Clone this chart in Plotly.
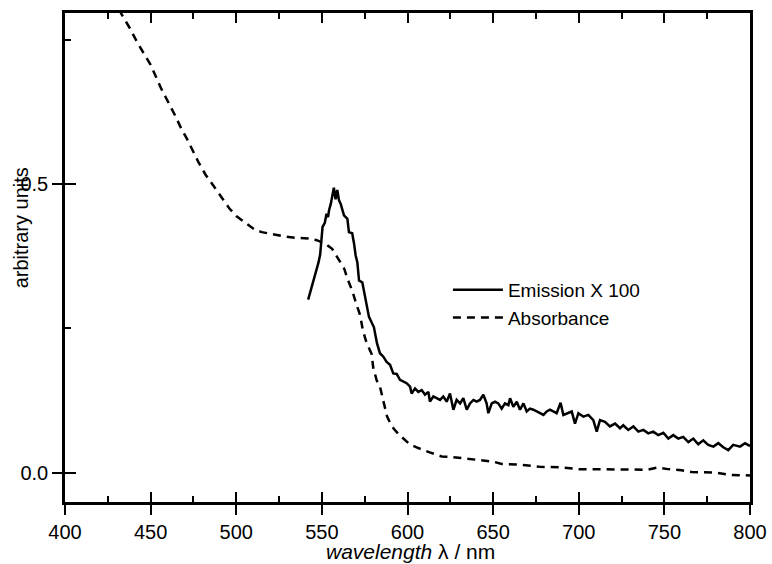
import plotly.graph_objects as go

# ---------------- data ----------------
abs_wl = [428, 433, 438, 442, 446, 450, 456, 460, 464, 468, 471, 475, 478, 482,
          487, 492, 496, 500, 505, 511, 515, 520, 527, 535, 542, 547, 552, 556,
          559, 561, 563, 565, 568, 570, 572, 573, 574, 576, 579, 580, 582, 584,
          586, 588, 590, 592, 595, 598, 601, 605, 609, 613, 617, 620, 626, 634,
          642, 650, 655, 665, 677, 690, 700, 720, 740, 746, 752, 760, 766, 780,
          788, 800]
abs_val = [0.825, 0.795, 0.770, 0.747, 0.727, 0.707, 0.667, 0.645, 0.621, 0.596,
           0.580, 0.556, 0.538, 0.517, 0.495, 0.475, 0.458, 0.445, 0.434, 0.421,
           0.417, 0.414, 0.410, 0.407, 0.406, 0.403, 0.397, 0.388, 0.374, 0.365,
           0.354, 0.336, 0.313, 0.293, 0.276, 0.262, 0.246, 0.226, 0.206, 0.182,
           0.160, 0.148, 0.122, 0.098, 0.085, 0.076, 0.066, 0.058, 0.050, 0.044,
           0.039, 0.035, 0.031, 0.028, 0.027, 0.024, 0.021, 0.019, 0.015, 0.014,
           0.010, 0.009, 0.006, 0.005, 0.005, 0.009, 0.006, 0.004, 0.001, 0.000,
           -0.004, -0.005]

em_wl = [542.0, 543.0, 544.0, 545.0, 546.0, 547.0, 548.0, 549.0, 549.5, 550.4,
         551.7, 552.7, 553.6, 554.2, 555.2, 556.1, 557.0, 558.0, 559.0, 560.0,
         561.0, 562.9, 564.9, 565.8, 567.7, 568.8, 569.7, 570.7, 571.7, 573.6,
         574.6, 575.6, 576.5, 577.5, 580.4, 582.2, 583.9, 585.9, 587.8, 589.8,
         591.7, 593.7, 595.6, 597.5, 599.5, 601.5, 602.4, 604.4, 606.3, 608.3,
         610.2, 612.2, 613.1, 615.1, 617.0, 619.0, 620.9, 622.9, 624.8, 626.8,
         628.7, 630.7, 632.6, 634.6, 636.5, 638.5, 640.4, 642.3, 644.3, 646.2,
         647.2, 649.2, 651.1, 653.0, 655.0, 656.9, 658.9, 659.9, 661.8, 663.8,
         665.7, 667.7, 669.6, 671.5, 673.5, 675.4, 677.4, 679.4, 681.3, 683.2,
         685.1, 687.1, 688.1, 689.4, 691.0, 693.0, 695.9, 697.8, 699.8, 702.7,
         705.6, 708.5, 710.5, 712.4, 715.3, 718.2, 721.2, 724.1, 726.0, 728.9,
         731.9, 734.8, 737.7, 740.6, 743.5, 746.4, 749.4, 752.3, 755.2, 758.1,
         761.0, 764.0, 766.9, 769.8, 772.7, 775.6, 778.6, 781.5, 784.4, 787.3,
         790.2, 794.2, 797.1, 800.0]
em_val = [0.300, 0.310, 0.320, 0.330, 0.342, 0.352, 0.364, 0.378, 0.403, 0.426,
          0.433, 0.449, 0.443, 0.455, 0.466, 0.478, 0.494, 0.474, 0.490, 0.472,
          0.466, 0.446, 0.440, 0.417, 0.415, 0.397, 0.377, 0.365, 0.333, 0.330,
          0.316, 0.299, 0.284, 0.270, 0.252, 0.224, 0.207, 0.201, 0.192, 0.187,
          0.172, 0.171, 0.161, 0.158, 0.155, 0.149, 0.137, 0.146, 0.140, 0.143,
          0.135, 0.140, 0.123, 0.132, 0.129, 0.126, 0.132, 0.123, 0.137, 0.109,
          0.126, 0.120, 0.129, 0.109, 0.120, 0.126, 0.123, 0.126, 0.135, 0.120,
          0.103, 0.120, 0.123, 0.120, 0.111, 0.120, 0.117, 0.129, 0.114, 0.123,
          0.109, 0.120, 0.106, 0.111, 0.109, 0.106, 0.103, 0.100, 0.106, 0.109,
          0.106, 0.103, 0.111, 0.121, 0.100, 0.103, 0.106, 0.085, 0.103, 0.097,
          0.100, 0.091, 0.071, 0.091, 0.088, 0.080, 0.085, 0.077, 0.082, 0.074,
          0.080, 0.071, 0.074, 0.068, 0.071, 0.065, 0.069, 0.059, 0.065, 0.059,
          0.062, 0.053, 0.059, 0.049, 0.056, 0.048, 0.045, 0.051, 0.044, 0.039,
          0.048, 0.045, 0.051, 0.046]

x_ticks = [400, 450, 500, 550, 600, 650, 700, 750, 800]
y_ticks = [0.0, 0.5]
y_tick_labels = ["0.0", "0.5"]

X_RANGE = [400, 800]
Y_RANGE = [-0.051, 0.797]
FONT = "Liberation Sans, Arial, sans-serif"

fig = go.Figure()
# emission on the main (labelled, outward-tick) axes
fig.add_trace(go.Scatter(x=em_wl, y=em_val, mode="lines", name="Emission X 100",
                         line=dict(color="black", width=2.5)))
# absorbance on the overlay axes (same ranges) that carry the inward ticks
fig.add_trace(go.Scatter(x=abs_wl, y=abs_val, mode="lines", name="Absorbance",
                         xaxis="x2", yaxis="y2",
                         line=dict(color="black", width=2.5, dash="8px,6px")))

fig.update_layout(
    width=772, height=564,
    margin=dict(l=65, r=22, t=13, b=62),
    paper_bgcolor="white", plot_bgcolor="white",
    font=dict(family=FONT, size=20, color="black"),
    showlegend=True,
    legend=dict(x=0.559, y=0.4725, xanchor="left", yanchor="top",
                bgcolor="rgba(0,0,0,0)", font=dict(size=19), itemwidth=50,
                tracegroupgap=0),
    xaxis=dict(range=X_RANGE, tickvals=x_ticks, ticks="outside", ticklen=10,
               tickwidth=2, tickcolor="black", showline=True, linewidth=2.5,
               linecolor="black", mirror=True, showgrid=False, zeroline=False,
               automargin=False, tickfont=dict(size=20)),
    xaxis2=dict(range=X_RANGE, overlaying="x", anchor="y2", tickvals=x_ticks,
                ticks="inside", ticklen=10, tickwidth=2, tickcolor="black",
                showticklabels=False, showline=False, mirror="ticks",
                showgrid=False, zeroline=False, automargin=False,
                minor=dict(dtick=25, tick0=400, ticks="inside", ticklen=6,
                           tickwidth=2, tickcolor="black", showgrid=False)),
    yaxis=dict(range=Y_RANGE, tickvals=y_ticks, ticktext=y_tick_labels,
               ticks="outside", ticklen=10, tickwidth=2, tickcolor="black",
               showline=True, linewidth=2.5, linecolor="black", mirror=True,
               showgrid=False, zeroline=False, automargin=False,
               tickfont=dict(size=20)),
    yaxis2=dict(range=Y_RANGE, overlaying="y", anchor="x2", side="left",
                tickvals=y_ticks, ticks="inside", ticklen=11, tickwidth=2,
                tickcolor="black", showticklabels=False, showline=False,
                showgrid=False, zeroline=False, automargin=False,
                minor=dict(tickvals=[0.25, 0.75], ticks="inside", ticklen=6,
                           tickwidth=2, tickcolor="black", showgrid=False)),
)

fig.add_annotation(text="arbitrary units", textangle=-90, xref="paper",
                   yref="paper", x=-0.064, y=0.56, xanchor="center",
                   yanchor="middle", showarrow=False,
                   font=dict(family=FONT, size=20, color="black"))
fig.add_annotation(text="<i>wavelength</i> λ / nm", xref="paper", yref="paper",
                   x=0.505, y=-0.101, xanchor="center", yanchor="middle",
                   showarrow=False, font=dict(family=FONT, size=21, color="black"))

fig.write_html("out.html", config={"displayModeBar": False},
               post_script="document.body.style.margin='0';"
                           "document.body.style.padding='0';")
